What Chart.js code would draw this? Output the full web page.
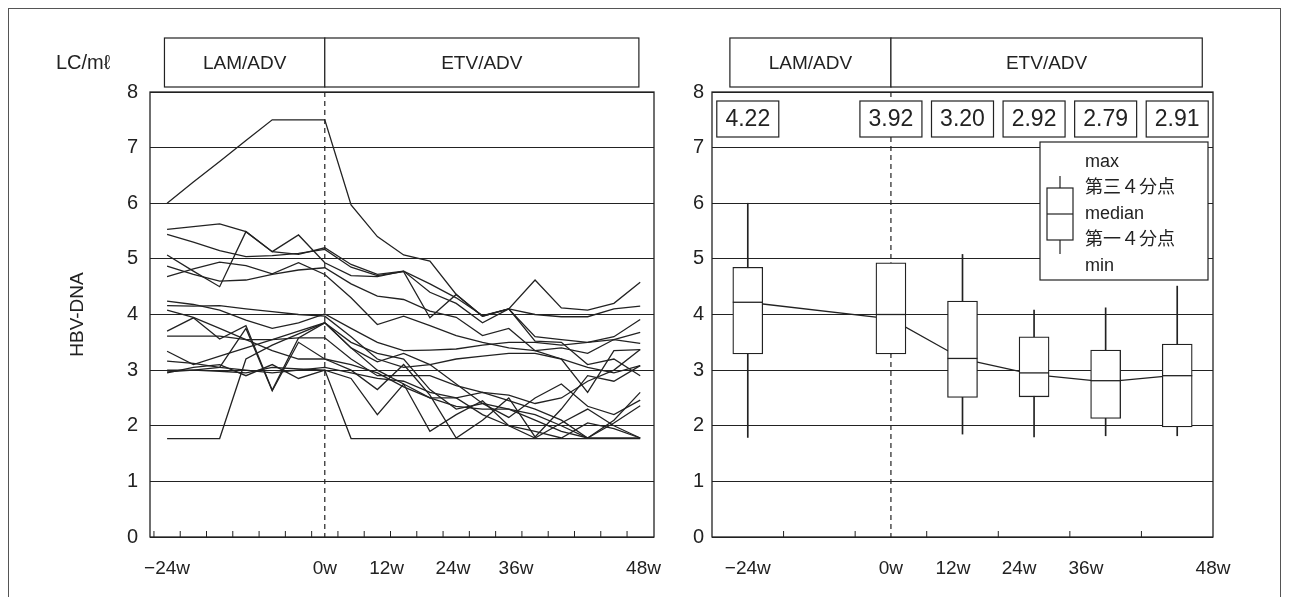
<!DOCTYPE html>
<html>
<head>
<meta charset="utf-8">
<script src="https://cdn.jsdelivr.net/npm/chart.js@4.4.0/dist/chart.umd.min.js"></script>
<style>
  html, body { margin: 0; padding: 0; background: #fff; }
  #wrap { position: relative; width: 1289px; height: 597px; overflow: hidden; }
  #frame { position: absolute; left: 8px; top: 8px; width: 1271px; height: 600px; border: 1px solid #555; }
  canvas { position: absolute; left: 0; top: 0; }
</style>
</head>
<body>
<div id="wrap">
  <div id="frame"></div>
  <canvas id="leftChart" width="1289" height="597"></canvas>
  <canvas id="rightChart" width="1289" height="597"></canvas>
</div>
<script>
// === DATA ===
const weeks = [-24, -20, -16, -12, -8, -4, 0, 4, 8, 12, 16, 20, 24, 28, 32, 36, 40, 44, 48];

// one row per patient, log HBV-DNA at each week above
const patientLevels = [
  [6.00, 6.38, 6.75, 7.13, 7.50, 7.50, 7.50, 5.97, 5.40, 5.07, 4.96, 4.36, 3.97, 4.10, 4.62, 4.12, 4.08, 4.20, 4.58],
  [5.53, 5.58, 5.63, 5.49, 5.13, 5.08, 5.20, 4.90, 4.72, 4.78, 4.55, 4.30, 3.98, 4.10, 4.00, 3.96, 3.96, 4.10, 4.15],
  [5.44, 5.30, 5.15, 5.04, 5.06, 5.10, 5.17, 4.85, 4.70, 4.77, 3.94, 4.36, 3.97, 4.10, 3.60, 3.55, 3.50, 3.55, 3.48],
  [5.07, 4.78, 4.50, 5.49, 5.13, 5.43, 4.93, 4.70, 4.68, 4.78, 4.40, 4.20, 3.85, 4.10, 3.52, 3.50, 3.10, 3.20, 2.90],
  [4.87, 4.72, 4.60, 4.62, 4.72, 4.80, 4.84, 4.55, 4.33, 4.27, 4.06, 3.95, 3.62, 3.75, 3.35, 3.20, 2.60, 3.35, 3.37],
  [4.68, 4.82, 4.94, 4.88, 4.73, 4.93, 4.72, 4.30, 3.82, 3.97, 3.80, 3.62, 3.50, 3.40, 3.35, 3.40, 3.30, 3.55, 3.68],
  [4.24, 4.18, 4.08, 3.90, 3.75, 3.85, 4.01, 3.75, 3.50, 3.35, 3.36, 3.38, 3.45, 3.50, 3.50, 3.45, 3.50, 3.60, 3.91],
  [4.16, 4.15, 4.16, 4.10, 4.05, 4.00, 3.97, 3.60, 3.20, 3.05, 3.10, 3.20, 3.25, 3.30, 3.30, 3.20, 3.05, 2.95, 3.08],
  [4.08, 3.95, 3.75, 3.55, 3.35, 3.20, 3.20, 3.10, 2.95, 2.70, 2.50, 2.35, 2.30, 2.30, 2.20, 2.00, 1.78, 1.78, 1.78],
  [3.70, 3.94, 3.56, 3.80, 2.64, 3.58, 3.85, 3.50, 3.30, 3.20, 2.65, 2.30, 2.40, 2.15, 2.50, 2.75, 2.35, 2.20, 2.46],
  [3.61, 3.61, 3.61, 3.55, 3.55, 3.58, 3.58, 3.20, 2.90, 2.90, 2.90, 2.72, 2.60, 2.45, 2.30, 2.10, 1.78, 2.05, 2.36],
  [3.34, 3.10, 3.25, 3.40, 3.55, 3.70, 3.85, 3.40, 3.15, 3.30, 3.10, 2.75, 2.40, 2.30, 2.10, 1.90, 1.78, 2.10, 2.60],
  [3.16, 3.12, 3.05, 3.00, 2.95, 3.00, 3.05, 2.95, 2.85, 2.80, 2.60, 2.50, 2.20, 2.00, 1.90, 1.78, 2.05, 1.95, 1.78],
  [2.97, 3.00, 2.98, 2.95, 3.05, 3.02, 3.00, 1.77, 1.77, 1.77, 1.77, 1.77, 1.77, 1.77, 1.77, 1.77, 1.77, 1.77, 1.77],
  [2.95, 3.05, 3.10, 2.90, 3.10, 2.85, 3.00, 2.85, 2.20, 2.75, 1.90, 2.20, 2.45, 2.00, 1.78, 2.05, 2.30, 2.00, 1.78],
  [1.77, 1.77, 1.77, 3.20, 3.45, 3.65, 3.85, 3.40, 3.00, 2.75, 2.50, 2.50, 2.60, 2.55, 2.40, 2.50, 2.80, 3.00, 3.37],
  [3.00, 3.00, 3.05, 3.75, 2.63, 3.50, 3.20, 3.00, 2.65, 3.10, 2.55, 1.78, 2.10, 2.50, 1.80, 2.30, 2.90, 2.80, 3.08]
];

// summary panel (box plots)
const boxWeeks  = [-24, 0, 12, 24, 36, 48];
const boxMax    = [6.00, 4.93, 5.08, 4.08, 4.12, 4.51];
const boxQ3     = [4.85, 4.93, 4.24, 3.60, 3.36, 3.47];
const boxMedian = [4.22, 4.00, 3.21, 2.95, 2.81, 2.90];
const boxQ1     = [3.29, 3.29, 2.51, 2.52, 2.13, 1.98];
const boxMin    = [1.79, 3.29, 1.85, 1.80, 1.82, 1.82];
const boxMean   = [4.22, 3.92, 3.20, 2.92, 2.79, 2.91];

const tickLabels = ['−24w', '0w', '12w', '24w', '36w', '48w'];
// where the printed labels sit on each week axis (they are not evenly spaced in the figure)
const leftLabelAt  = [-24, 0, 9.4, 19.5, 29.1, 48.5];
const rightLabelAt = [-24, 0, 10.4, 21.5, 32.7, 54];
const leftTickMarks  = [-26, -22, -18, -14, -10, -6, -2, 2, 6, 10, 14, 18, 22, 26, 30, 34, 38, 42, 46];
const rightTickMarks = [-18, -6, 6, 18, 30, 42];
const phaseNames = ['LAM/ADV', 'ETV/ADV'];
const legendLabels = ['max', '第三４分点', 'median', '第一４分点', 'min'];

// === STYLE ===
const INK = '#222';
const FONT = '"Liberation Sans", Arial, "Noto Sans CJK JP", sans-serif';
Chart.defaults.font.family = FONT;
Chart.defaults.color = INK;

function line(ctx, x1, y1, x2, y2) {
  ctx.beginPath();
  ctx.moveTo(x1, y1);
  ctx.lineTo(x2, y2);
  ctx.stroke();
}

function textBox(ctx, x1, y1, x2, y2, text, size) {
  ctx.fillStyle = '#fff';
  ctx.fillRect(x1, y1, x2 - x1, y2 - y1);
  ctx.strokeRect(x1, y1, x2 - x1, y2 - y1);
  ctx.fillStyle = INK;
  ctx.font = size + 'px ' + FONT;
  ctx.textAlign = 'center';
  ctx.textBaseline = 'middle';
  ctx.fillText(text, (x1 + x2) / 2, (y1 + y2) / 2 + 1);
}

// frame, dashed 0w line, inner ticks and the LAM/ETV header
function panelDecor(id, phaseEdges, tickMarks) {
  return {
    id: id,
    beforeDatasetsDraw(chart) {
      const { ctx, chartArea: a, scales: { x } } = chart;
      ctx.save();
      ctx.strokeStyle = INK;
      ctx.lineWidth = 1.2;
      ctx.setLineDash([5, 4]);
      const px = x.getPixelForValue(0);
      line(ctx, px, a.top, px, a.bottom);
      ctx.restore();
    },
    afterDraw(chart) {
      const { ctx, chartArea: a, scales: { x } } = chart;
      ctx.save();
      ctx.strokeStyle = INK;
      ctx.lineWidth = 1.3;
      ctx.strokeRect(a.left, a.top, a.right - a.left, a.bottom - a.top);
      ctx.lineWidth = 1;
      tickMarks.forEach((w) => {
        const px = x.getPixelForValue(w);
        line(ctx, px, a.bottom, px, a.bottom - 6);
      });
      ctx.lineWidth = 1.2;
      for (let i = 0; i < phaseNames.length; i++) {
        textBox(ctx, x.getPixelForValue(phaseEdges[i]), 38,
          x.getPixelForValue(phaseEdges[i + 1]), 87, phaseNames[i], 19);
      }
      ctx.restore();
    }
  };
}

const unitLabel = {
  id: 'unitLabel',
  afterDraw(chart) {
    const ctx = chart.ctx;
    ctx.save();
    ctx.fillStyle = INK;
    ctx.font = '20px ' + FONT + ', "DejaVu Sans"';
    ctx.textAlign = 'left';
    ctx.textBaseline = 'middle';
    ctx.fillText('LC/mℓ', 56, 63);
    ctx.restore();
  }
};

// value boxes on top + legend of the box plot
const summaryDecor = {
  id: 'summaryDecor',
  afterDatasetsDraw(chart) {
    const { ctx, scales: { x } } = chart;
    ctx.save();
    ctx.strokeStyle = INK;
    ctx.lineWidth = 1.2;
    boxWeeks.forEach((w, i) => {
      const cx = x.getPixelForValue(w);
      textBox(ctx, cx - 31, 101, cx + 31, 137, boxMean[i].toFixed(2), 23);
    });

    // legend
    const lx = 1040, ly = 142, lw = 168, lh = 138;
    ctx.fillStyle = '#fff';
    ctx.fillRect(lx, ly, lw, lh);
    ctx.strokeRect(lx, ly, lw, lh);
    const bx = 1060;
    line(ctx, bx, 176, bx, 188);
    line(ctx, bx, 240, bx, 254);
    ctx.strokeRect(bx - 13, 188, 26, 52);
    line(ctx, bx - 13, 214, bx + 13, 214);
    ctx.fillStyle = INK;
    ctx.font = '18px ' + FONT;
    ctx.textAlign = 'left';
    ctx.textBaseline = 'middle';
    legendLabels.forEach((t, i) => ctx.fillText(t, 1085, 162 + i * 26));
    ctx.restore();
  }
};

const tickFont = { size: 20 };

function xAxis(min, max, labelAt) {
  return {
    type: 'linear',
    min: min,
    max: max,
    offset: false,
    afterBuildTicks: (s) => { s.ticks = labelAt.map((v) => ({ value: v })); },
    afterFit: (s) => { s.height = 40; },
    ticks: {
      autoSkip: false,
      maxRotation: 0,
      padding: 12,
      font: { size: 19 },
      callback: (v) => tickLabels[labelAt.indexOf(v)]
    },
    grid: { display: false, offset: false },
    border: { display: false }
  };
}

// === LEFT: individual patients ===
new Chart(document.getElementById('leftChart'), {
  type: 'line',
  data: {
    datasets: patientLevels.map((vals) => ({
      data: weeks.map((w, i) => ({ x: w, y: vals[i] })),
      borderColor: INK,
      borderWidth: 1.3,
      pointRadius: 0,
      tension: 0,
      fill: false
    }))
  },
  options: {
    responsive: false,
    animation: false,
    events: [],
    layout: { padding: { left: 66, right: 635, top: 92, bottom: 20 } },
    plugins: { legend: { display: false }, tooltip: { enabled: false } },
    scales: {
      x: xAxis(-26.6, 50.1, leftLabelAt),
      y: {
        min: 0,
        max: 8,
        afterFit: (s) => { s.width = 84; },
        ticks: { stepSize: 1, padding: 12, font: tickFont },
        grid: { color: INK, lineWidth: 1, drawTicks: false },
        border: { display: false },
        title: { display: true, text: 'HBV-DNA', font: { size: 19 }, padding: { top: 0, bottom: 0 } }
      }
    }
  },
  plugins: [panelDecor('leftDecor', [-24.4, 0, 47.8], leftTickMarks), unitLabel]
});

// === RIGHT: box plots ===
new Chart(document.getElementById('rightChart'), {
  type: 'bar',
  data: {
    datasets: [
      {
        type: 'line',
        data: boxWeeks.map((w, i) => ({ x: w, y: boxMean[i] })),
        borderColor: INK,
        borderWidth: 1.3,
        pointRadius: 0,
        order: 3
      },
      {
        data: boxWeeks.map((w, i) => ({ x: w, y: [boxMin[i], boxMax[i]] })),
        backgroundColor: INK,
        barThickness: 1,
        grouped: false,
        order: 2
      },
      {
        data: boxWeeks.map((w, i) => ({ x: w, y: [boxQ1[i], boxQ3[i]] })),
        backgroundColor: '#fff',
        borderColor: INK,
        borderWidth: 1.3,
        borderSkipped: false,
        barThickness: 30,
        grouped: false,
        order: 1
      },
      {
        type: 'line',
        data: boxWeeks.map((w, i) => ({ x: w, y: boxMedian[i] })),
        showLine: false,
        pointStyle: 'line',
        pointRadius: 15,
        pointBorderWidth: 1.3,
        borderColor: INK,
        order: 0
      }
    ]
  },
  options: {
    responsive: false,
    animation: false,
    events: [],
    layout: { padding: { left: 672, right: 76, top: 92, bottom: 20 } },
    plugins: { legend: { display: false }, tooltip: { enabled: false } },
    scales: {
      x: xAxis(-30, 54, rightLabelAt),
      y: {
        min: 0,
        max: 8,
        afterFit: (s) => { s.width = 40; },
        ticks: { stepSize: 1, padding: 8, font: tickFont },
        grid: { color: INK, lineWidth: 1, drawTicks: false },
        border: { display: false }
      }
    }
  },
  plugins: [panelDecor('rightDecor', [-27, 0, 52.2], rightTickMarks), summaryDecor]
});
</script>
</body>
</html>
